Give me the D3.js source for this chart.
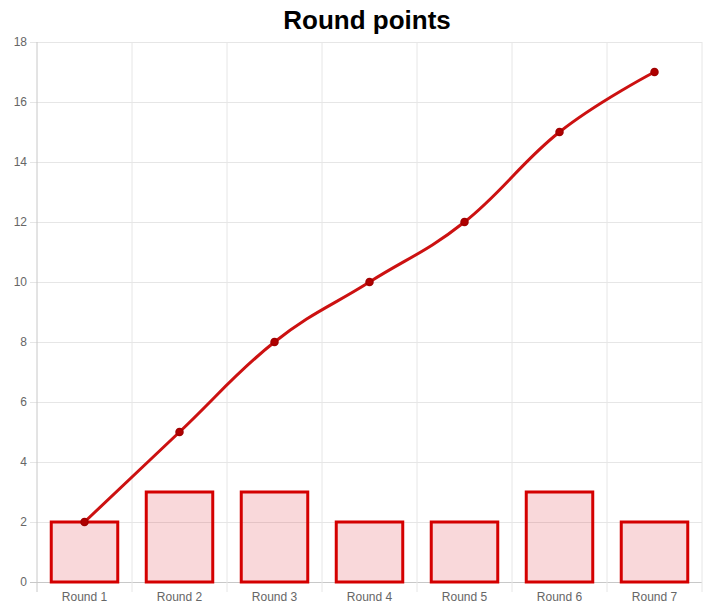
<!DOCTYPE html>
<html><head><meta charset="utf-8">
<script src="https://cdn.jsdelivr.net/npm/d3@7"></script>
<style>body{margin:0;background:#fff}svg{display:block}</style>
</head><body>
<svg id="c" width="707" height="605"></svg>
<script>
const categories = ["Round 1","Round 2","Round 3","Round 4","Round 5","Round 6","Round 7"];
const roundPoints = [2,3,3,2,2,3,2];
const totalPoints = [2,5,8,10,12,15,17];
const yTicks = [0,2,4,6,8,10,12,14,16,18];
const title = "Round points";

(function () {
const svg = d3.select("#c");
const mLeft = 37, mRight = 702, mTop = 42, mBottom = 582;
const x = d3.scaleBand().domain(categories).range([mLeft, mRight]).paddingInner(0).paddingOuter(0);
const y = d3.scaleLinear().domain([0, 18]).range([mBottom, mTop]);
const font = "'Liberation Sans', Arial, sans-serif";

svg.append("text").attr("x", 367).attr("y", 29).attr("text-anchor", "middle")
  .attr("font-family", font).attr("font-weight", "bold").attr("font-size", 26).attr("fill", "#000").text(title);

// horizontal grid
const yAxis = d3.axisLeft(y).tickValues(yTicks).tickSize(-(mRight - mLeft)).tickPadding(5);
const gy = svg.append("g").attr("transform", `translate(${mLeft},0)`).call(yAxis);
gy.select(".domain").remove();
gy.selectAll(".tick line").attr("stroke", "#e6e6e6").attr("x1", -7);
gy.selectAll(".tick line").filter(d => d === 0).attr("stroke", "#c8c8c8");
gy.selectAll(".tick text").attr("font-family", font).attr("font-size", 12).attr("fill", "#666").attr("x", -10);

// vertical grid
const gridX = categories.map(c => x(c)).concat([mRight]);
svg.append("g").selectAll("line").data(gridX).join("line")
  .attr("x1", d => d).attr("x2", d => d).attr("y1", mTop).attr("y2", mBottom + 10)
  .attr("stroke", (d, i) => i === 0 ? "#c8c8c8" : "#e6e6e6").attr("stroke-width", 1);

const xAxis = d3.axisBottom(x).tickSize(0).tickPadding(10);
const gx = svg.append("g").attr("transform", `translate(0,${mBottom})`).call(xAxis);
gx.select(".domain").remove();
gx.selectAll(".tick text").attr("font-family", font).attr("font-size", 12).attr("fill", "#666");

// bars
const bw = x.bandwidth() * 0.7;
svg.append("g").selectAll("rect").data(roundPoints).join("rect")
  .attr("x", (d, i) => x(categories[i]) + (x.bandwidth() - bw) / 2)
  .attr("y", d => y(d))
  .attr("width", bw)
  .attr("height", d => mBottom - y(d))
  .attr("fill", "rgba(220,40,50,0.18)")
  .attr("stroke", "#d40000").attr("stroke-width", 3);

// line
const cx = (d, i) => x(categories[i]) + x.bandwidth() / 2;
const line = d3.line().x(cx).y(d => y(d)).curve(d3.curveCardinal.tension(-0.2));
svg.append("path").datum(totalPoints).attr("d", line)
  .attr("fill", "none").attr("stroke", "#cc1111").attr("stroke-width", 3);
svg.append("g").selectAll("circle").data(totalPoints).join("circle")
  .attr("cx", cx).attr("cy", d => y(d)).attr("r", 3.5)
  .attr("fill", "#b00000").attr("stroke", "#a00000").attr("stroke-width", 1.5);
})();
</script>
</body></html>
